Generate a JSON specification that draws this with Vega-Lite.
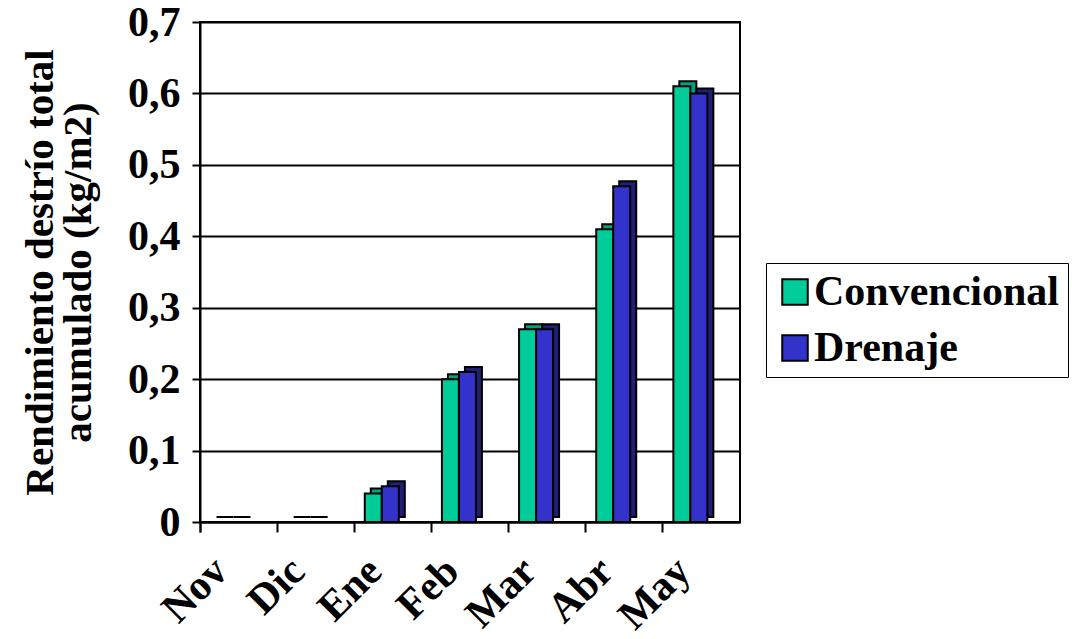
{
  "$schema": "https://vega.github.io/schema/vega-lite/v6.json",
  "width": 540,
  "height": 500,
  "autosize": {"type": "none"},
  "padding": {"left": 200, "top": 22, "right": 332, "bottom": 117},
  "background": "white",
  "config": {
    "font": "Liberation Serif",
    "view": {"stroke": "black", "strokeWidth": 2},
    "axis": {
      "domainColor": "black",
      "domainWidth": 2,
      "tickColor": "black",
      "tickWidth": 2,
      "labelColor": "black",
      "labelFont": "Liberation Serif",
      "labelFontWeight": "bold",
      "labelFontSize": 42,
      "titleColor": "black",
      "titleFont": "Liberation Serif",
      "titleFontWeight": "bold",
      "titleFontSize": 41
    }
  },
  "data": {
    "values": [
      {"mes": "Nov", "tratamiento": "Convencional", "valor": 0},
      {"mes": "Nov", "tratamiento": "Drenaje", "valor": 0},
      {"mes": "Dic", "tratamiento": "Convencional", "valor": 0},
      {"mes": "Dic", "tratamiento": "Drenaje", "valor": 0},
      {"mes": "Ene", "tratamiento": "Convencional", "valor": 0.04},
      {"mes": "Ene", "tratamiento": "Drenaje", "valor": 0.05},
      {"mes": "Feb", "tratamiento": "Convencional", "valor": 0.2},
      {"mes": "Feb", "tratamiento": "Drenaje", "valor": 0.21},
      {"mes": "Mar", "tratamiento": "Convencional", "valor": 0.27},
      {"mes": "Mar", "tratamiento": "Drenaje", "valor": 0.27},
      {"mes": "Abr", "tratamiento": "Convencional", "valor": 0.41},
      {"mes": "Abr", "tratamiento": "Drenaje", "valor": 0.47},
      {"mes": "May", "tratamiento": "Convencional", "valor": 0.61},
      {"mes": "May", "tratamiento": "Drenaje", "valor": 0.6}
    ]
  },
  "encoding": {
    "x": {
      "field": "mes",
      "type": "nominal",
      "sort": ["Nov", "Dic", "Ene", "Feb", "Mar", "Abr", "May"],
      "scale": {"paddingInner": 0, "paddingOuter": 0},
      "axis": {
        "title": null,
        "grid": false,
        "bandPosition": 0,
        "tickExtra": true,
        "tickSize": 10,
        "labelAngle": -45,
        "labelAlign": "right",
        "labelBaseline": "middle",
        "labelPadding": 32,
        "labelOffset": -18
      }
    }
  },
  "layer": [
    {
      "mark": {"type": "bar", "stroke": "black", "strokeWidth": 2},
      "encoding": {
        "xOffset": {
          "field": "tratamiento",
          "type": "nominal",
          "sort": ["Convencional", "Drenaje"],
          "scale": {"paddingInner": 0, "paddingOuter": 0, "range": [16.5, 50.5]}
        },
        "y": {
          "field": "valor",
          "type": "quantitative",
          "stack": null,
          "scale": {"domain": [0, 0.7], "nice": false, "range": [495, -5]},
          "axis": null
        },
        "color": {
          "field": "tratamiento",
          "type": "nominal",
          "scale": {"domain": ["Convencional", "Drenaje"], "range": ["#00a37a", "#1f1f75"]},
          "legend": null
        }
      }
    },
    {
      "mark": {"type": "bar", "stroke": "black", "strokeWidth": 2},
      "encoding": {
        "xOffset": {
          "field": "tratamiento",
          "type": "nominal",
          "sort": ["Convencional", "Drenaje"],
          "scale": {"paddingInner": 0, "paddingOuter": 0, "range": [10.5, 44.5]}
        },
        "y": {
          "field": "valor",
          "type": "quantitative",
          "stack": null,
          "scale": {"domain": [0, 0.7], "nice": false},
          "axis": {
            "values": [0, 0.1, 0.2, 0.3, 0.4, 0.5, 0.6, 0.7],
            "labelExpr": "datum.value == 0 ? '0' : replace(format(datum.value, '.1f'), '.', ',')",
            "grid": true,
            "gridColor": "black",
            "gridWidth": 2,
            "tickSize": 8,
            "labelPadding": 12,
            "title": ["Rendimiento destrío total", "acumulado (kg/m2)"],
            "titleLineHeight": 38,
            "titlePadding": 28
          }
        },
        "color": {
          "field": "tratamiento",
          "type": "nominal",
          "scale": {"domain": ["Convencional", "Drenaje"], "range": ["#00cc99", "#3333cc"]},
          "legend": {
            "title": null,
            "orient": "none",
            "legendX": 566,
            "legendY": 241,
            "strokeColor": "black",
            "padding": 8,
            "symbolType": "square",
            "symbolSize": 650,
            "symbolStrokeColor": "black",
            "symbolStrokeWidth": 2,
            "symbolOpacity": 1,
            "labelFont": "Liberation Serif",
            "labelFontSize": 42,
            "labelFontWeight": "bold",
            "labelColor": "black",
            "labelOffset": -2,
            "labelLimit": 400,
            "rowPadding": 14
          }
        }
      }
    }
  ],
  "resolve": {"scale": {"color": "independent", "xOffset": "independent", "y": "independent"}}
}
